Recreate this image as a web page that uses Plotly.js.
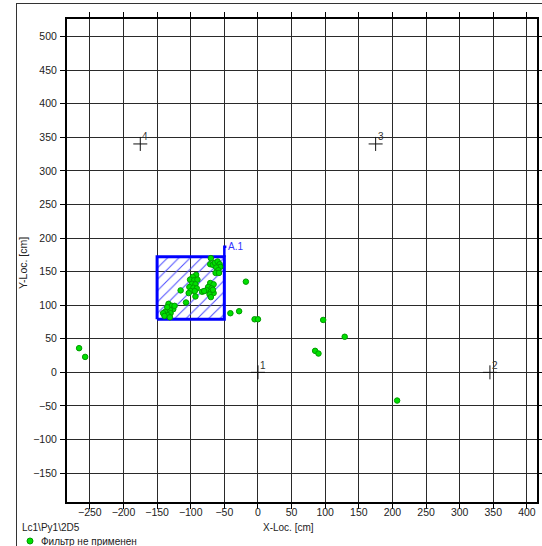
<!DOCTYPE html>
<html>
<head>
<meta charset="utf-8">
<script src="https://cdn.plot.ly/plotly-3.0.1.min.js"></script>
<style>
html,body{margin:0;padding:0;background:#fff;overflow:hidden;}
#wrap{position:relative;width:542px;height:546px;}
#chart{position:absolute;left:0;top:0;width:542px;height:546px;}
#frame{position:absolute;left:16px;top:3px;width:600px;height:600px;border-left:1px solid #333;border-top:1px solid #333;pointer-events:none;z-index:5;}
</style>
</head>
<body>
<div id="wrap"><div id="chart"></div><div id="frame"></div></div>
<script>
// ---- data ----
const pointX = [-266, -257, -41, -28, -18, -5, 0, 85, 90, 97, 129, 207,
  -70, -71, -67, -64, -60, -57, -56, -62, -59, -63, -58,
  -92, -97, -101, -95, -90, -98, -93, -102, -96, -91, -100, -103, -94, -93, -115, -107, -83,
  -71, -66, -74, -69, -76, -70, -66, -72, -70, -80, -67,
  -133, -128, -126, -131, -135, -138, -130, -134, -141, -139, -124, -131];
const pointY = [36, 23, 88, 91, 135, 79, 79, 32, 28, 78, 53, -42,
  170, 161, 160, 163, 165, 161, 157, 156, 152, 148, 148,
  145, 142, 138, 137, 138, 132, 131, 127, 126, 125, 121, 118, 121, 113, 122, 104, 120,
  133, 131, 127, 125, 122, 120, 118, 116, 112, 121, 123,
  102, 99, 94, 93, 97, 90, 88, 85, 88, 84, 99, 82];
const markerIds = ['1', '2', '3', '4'];
const markerX = [0, 345, 175, -175];
const markerY = [0, 0, 340, 340];
const areaName = 'A.1';
const areaX = [-150, -50];
const areaY = [79, 172];
const seriesName = 'Фильтр не применен';
const sourceName = 'Lc1\\Py1\\2D5';
const xTitle = 'X-Loc. [cm]';
const yTitle = 'Y-Loc. [cm]';

// ---- geometry helpers (pixel -> paper) ----
const W = 542, H = 546, ML = 67, MR = 5, MT = 19, MB = 44;
const PW = W - ML - MR, PH = H - MT - MB;
const px = v => (v - ML) / PW;
const py = v => (H - MB - v) / PH;
const FONT = 'Liberation Sans, Arial, sans-serif';

const traces = [
  {
    type: 'scatter', mode: 'lines', showlegend: false, hoverinfo: 'skip',
    x: [areaX[0], areaX[1], areaX[1], areaX[0], areaX[0]],
    y: [areaY[0], areaY[0], areaY[1], areaY[1], areaY[0]],
    fill: 'toself', fillcolor: 'rgba(0,0,0,0)',
    fillpattern: {shape: '/', fgcolor: '#5050ff', bgcolor: 'rgba(0,0,0,0)', size: 8, solidity: 0.13},
    line: {color: '#0000ff', width: 3}
  },
  {
    type: 'scatter', mode: 'lines', showlegend: false, hoverinfo: 'skip',
    x: [areaX[1], areaX[1], areaX[1] + 3],
    y: [areaY[1], areaY[1] + 15, areaY[1] + 15],
    line: {color: '#0000ff', width: 2.5}
  },
  {
    type: 'scatter', mode: 'markers', name: seriesName, showlegend: false,
    x: pointX, y: pointY,
    marker: {color: '#00e000', size: 5.5, line: {color: '#009a00', width: 1}}
  },
  {
    type: 'scatter', mode: 'markers', showlegend: false,
    x: markerX, y: markerY,
    marker: {symbol: 'cross-thin', size: 10, color: '#000', line: {color: '#111', width: 1}}
  }
];

const annotations = markerIds.map((t, i) => ({
  x: markerX[i], y: markerY[i], xref: 'x', yref: 'y', text: t, showarrow: false,
  xanchor: 'center', yanchor: 'middle', xshift: 5, yshift: 7,
  font: {family: FONT, size: 10, color: '#333'}
}));
annotations.push({
  x: areaX[1], y: areaY[1] + 15, xref: 'x', yref: 'y', text: areaName, showarrow: false,
  xanchor: 'left', yanchor: 'middle', xshift: 2, yshift: 0,
  font: {family: FONT, size: 10, color: '#3535ff'}
});
annotations.push({
  x: px(20), y: py(527), xref: 'paper', yref: 'paper', text: sourceName, showarrow: false,
  xanchor: 'left', yanchor: 'middle',
  font: {family: FONT, size: 10, color: '#222'}
});
annotations.push({
  x: px(39), y: py(541), xref: 'paper', yref: 'paper', text: seriesName, showarrow: false,
  xanchor: 'left', yanchor: 'middle',
  font: {family: FONT, size: 10, color: '#222'}
});
annotations.push({
  x: px(288), y: py(527), xref: 'paper', yref: 'paper', text: xTitle, showarrow: false,
  xanchor: 'center', yanchor: 'middle',
  font: {family: FONT, size: 10, color: '#222'}
});
annotations.push({
  x: px(23), y: py(263), xref: 'paper', yref: 'paper', text: yTitle, showarrow: false,
  textangle: -90, xanchor: 'center', yanchor: 'middle',
  font: {family: FONT, size: 10.5, color: '#222'}
});

const shapes = [
  {type: 'circle', xref: 'paper', yref: 'paper', xsizemode: 'pixel', ysizemode: 'pixel',
   xanchor: px(30), yanchor: py(541), x0: -3, x1: 3, y0: -3, y1: 3,
   fillcolor: '#00e000', line: {color: '#009a00', width: 1}}
];

const axisCommon = {
  showgrid: true, gridcolor: '#2a2a2a', gridwidth: 1,
  zeroline: false, showline: true, linecolor: '#000', linewidth: 2, mirror: 'ticks',
  ticks: 'outside', ticklen: 5, tickcolor: '#000', tickwidth: 1,
  tickfont: {family: FONT, size: 10.5, color: '#222'},
  dtick: 50, fixedrange: true
};

const layout = {
  width: W, height: H,
  margin: {l: ML, r: MR, t: MT, b: MB, pad: 0},
  paper_bgcolor: 'rgba(0,0,0,0)', plot_bgcolor: '#fff',
  showlegend: false,
  xaxis: Object.assign({}, axisCommon, {range: [-284, 415], tick0: 0, ticklabelstandoff: -6}),
  yaxis: Object.assign({}, axisCommon, {range: [-193, 526], tick0: 0, ticklabelstandoff: 1}),
  annotations: annotations,
  shapes: shapes
};

Plotly.newPlot('chart', traces, layout, {displayModeBar: false, staticPlot: true});
</script>
</body>
</html>
